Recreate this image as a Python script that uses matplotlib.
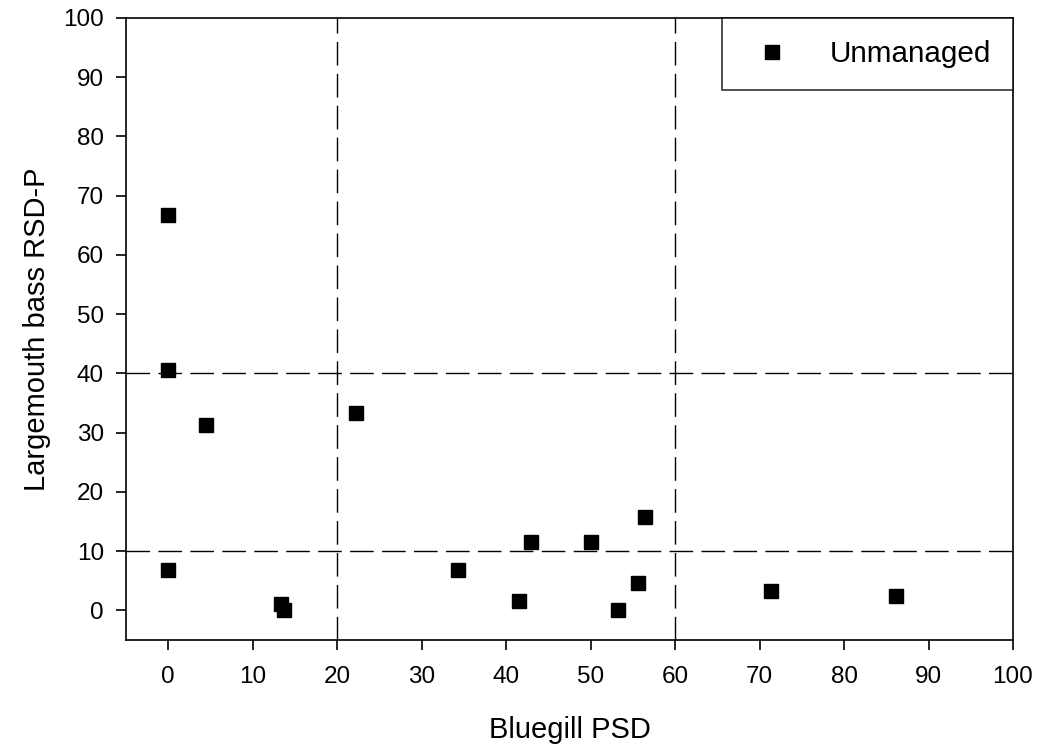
import matplotlib
matplotlib.use("Agg")
import matplotlib.pyplot as plt

plt.rcParams['font.family'] = ['Liberation Sans', 'DejaVu Sans']

# Datos
bluegill_psd = [0, 0, 4.5, 0, 13.3, 13.7, 22.2, 34.3, 41.5, 42.9, 50.0, 53.3, 55.6, 56.4, 71.4, 86.2]
lmb_rsd_p = [66.7, 40.5, 31.3, 6.8, 1.0, 0.0, 33.3, 6.9, 1.6, 11.5, 11.6, 0.0, 4.7, 15.8, 3.3, 2.5]
vlines = [20, 60]
hlines = [10, 40]
ticks = list(range(0, 101, 10))

fig = plt.figure(figsize=(10.4, 7.51), dpi=100)
ax = fig.add_axes([126/1040, 1 - 640/751, (1013-126)/1040, (640-18)/751])

# lineas de referencia discontinuas
for v in vlines:
    ax.axvline(v, color='black', lw=1, dashes=(17, 6))
for h in hlines:
    ax.axhline(h, color='black', lw=1, dashes=(17, 6))

ax.plot(bluegill_psd, lmb_rsd_p, 's', color='black', markersize=10, label='Unmanaged', zorder=3)

ax.set_xlim(-5, 100)
ax.set_ylim(-5, 100)
ax.set_xticks(ticks)
ax.set_yticks(ticks)
ax.tick_params(direction='out', length=7, width=1.2, labelsize=17.5, pad=9)
ax.tick_params(axis='x', pad=12)
for s in ax.spines.values():
    s.set_linewidth(1.2)

ax.set_xlabel('Bluegill PSD', fontsize=21, labelpad=20)
ax.set_ylabel('Largemouth bass RSD-P', fontsize=21, labelpad=9)

leg = ax.legend(loc='upper right', bbox_to_anchor=(1.0, 1.0), fontsize=21.3, frameon=True,
                fancybox=False, edgecolor='black', borderaxespad=0, handletextpad=0.98,
                borderpad=0.75, handlelength=1.9, markerscale=1.05)
leg.get_frame().set_linewidth(1.2)

fig.savefig('out.png', dpi=100)
